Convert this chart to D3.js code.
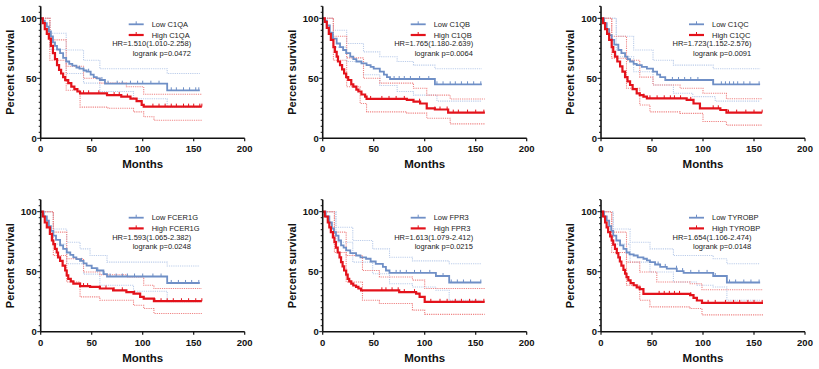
<!DOCTYPE html>
<html lang="en">

<head>
    <title>Survival</title>
    <meta charset="utf-8">
    <script src="https://d3js.org/d3.v7.min.js"></script>
    <style>
        body { margin: 0; background: #fff; }
        svg { display: block; font-family: Arial, "Liberation Sans", sans-serif; }
        .tick-label { font-size: 9.5px; font-weight: bold; fill: #111; }
        .axis-title { font-weight: bold; fill: #111; }
        .legend-text { font-size: 7.5px; fill: #222; }
    </style>
</head>

<body>
    <div id="container1"></div>
    <script>
        // Genes, one panel each
        const genes = ["C1QA", "C1QB", "C1QC", "FCER1G", "FPR3", "TYROBP"];
        const hrLabels = ["HR=1.510(1.010-2.258)", "HR=1.765(1.180-2.639)", "HR=1.723(1.152-2.576)",
            "HR=1.593(1.065-2.382)", "HR=1.613(1.079-2.412)", "HR=1.654(1.106-2.474)"];
        const pLabels = ["logrank p=0.0472", "logrank p=0.0064", "logrank p=0.0091",
            "logrank p=0.0248", "logrank p=0.0215", "logrank p=0.0148"];
        const xTicks = [0, 50, 100, 150, 200];
        const yTicks = [0, 50, 100];

        // Kaplan-Meier steps [month, percent] : main curve, upper CI, lower CI
        const c1qaLow = [[0, 100], [2, 98], [4, 96], [6, 93], [8, 89], [10, 85], [12, 80], [14, 77], [16, 74], [19, 71], [22, 67], [25, 64], [28, 62], [31, 60.5], [35, 59], [38, 58], [42, 56.5], [45, 55.5], [49, 53], [52, 51], [55, 50], [58, 48.6], [63, 45.5], [124, 40], [156, 40]];
        const c1qaLowUp = [[0, 100], [9, 87.5], [25, 73.6], [42, 65], [58, 58], [124, 54], [156, 54]];
        const c1qaLowLo = [[0, 100], [9, 74], [25, 54], [42, 46], [58, 39], [91, 33], [124, 26], [156, 26]];
        const c1qaHigh = [[0, 100], [2, 96], [4, 91], [6, 87], [8, 83], [10, 77], [12, 71], [14, 66], [16, 61], [18, 57], [20, 54], [22, 51], [24, 48.5], [27, 46], [30, 43], [33, 41], [36, 39], [38.6, 37.5], [65, 36], [79, 34.7], [88, 33], [94, 31], [99, 27.8], [101, 26.4], [158, 26.4]];
        const c1qaHighUp = [[0, 100], [9, 82], [25, 60], [42, 50], [58, 46], [84, 43], [101, 36.7], [158, 36.7]];
        const c1qaHighLo = [[0, 100], [9, 65], [25, 40], [38.6, 26], [66, 25], [91, 22], [101, 18], [111, 15], [158, 15]];

        const c1qbLow = [[0, 100], [2, 98], [4, 94], [7, 88], [10, 83], [13.7, 79], [17, 76], [20, 73.6], [23, 71], [27, 68], [30, 66], [33, 64], [38, 62.5], [43, 61], [47, 59.5], [50, 58], [56, 55.5], [60, 53], [63, 51], [66, 49.4], [110, 45], [156, 45]];
        const c1qbLowUp = [[0, 100], [10.5, 90], [23.5, 79], [40, 72], [56, 68], [73, 64], [89, 61], [110, 58], [156, 58]];
        const c1qbLowLo = [[0, 100], [10.5, 76], [23.5, 64], [40, 53], [56, 44], [73, 39], [89, 36], [112, 31], [156, 31]];
        const c1qbHigh = [[0, 100], [2, 97], [4, 92], [6, 87], [8, 82], [10.5, 76], [12, 72], [13.7, 68], [15, 64], [17, 61], [19, 57.5], [21, 54], [23, 51], [25, 48.6], [28, 45], [30, 43], [33, 40.5], [35, 39], [38, 36.5], [41.6, 34.7], [43, 32.8], [82.5, 32], [89, 30.5], [95.5, 29], [102, 25], [110, 24], [123, 21.4], [159, 21.4]];
        const c1qbHighUp = [[0, 100], [10.5, 85], [23.5, 67], [40, 50], [56, 46], [89, 41.7], [102, 36], [125, 32.8], [159, 32.8]];
        const c1qbHighLo = [[0, 100], [10.5, 65], [23.5, 43], [36.7, 29], [43, 22], [82.5, 21], [102, 16.7], [125, 12], [159, 12]];

        const c1qcLow = [[0, 100], [3, 96], [5.6, 91], [8, 86], [10.5, 82], [13, 78], [17, 73.6], [20, 71], [23.6, 68], [26, 66], [28.5, 64], [32, 62], [35, 61], [40, 59.5], [45, 58], [51, 55.5], [55, 53], [58, 51], [63, 48.6], [110, 45], [156, 45]];
        const c1qcLowUp = [[0, 100], [15, 85], [32, 73.6], [51, 65], [71, 61], [110, 58], [156, 58]];
        const c1qcLowLo = [[0, 100], [15, 68], [32, 55.5], [51, 44.4], [71, 37.5], [90, 34.7], [112, 31], [156, 31]];
        const c1qcHigh = [[0, 100], [2, 96], [4, 91], [6, 87], [8, 82], [10.5, 76], [12, 72], [13.7, 68], [16, 64], [18.7, 60], [21, 55.5], [23.6, 51], [26, 47.5], [28.5, 44.4], [31, 41], [35, 37.5], [38, 36], [41.6, 34.7], [45, 33.3], [84, 32], [90.7, 29], [97, 25], [117, 23.6], [123, 21.4], [158, 21.4]];
        const c1qcHighUp = [[0, 100], [10.5, 85], [25, 65], [38, 51], [51, 44.4], [77.5, 41.7], [100, 37.5], [123, 33], [158, 33]];
        const c1qcHighLo = [[0, 100], [10.5, 66.7], [25, 41.7], [38, 27.8], [48, 22], [77.5, 20.8], [100, 14], [123, 11], [158, 11]];

        const fcer1gLow = [[0, 100], [3, 96], [6, 92.5], [8, 88], [10, 84], [12.4, 80], [15, 76.5], [19, 72], [22, 69], [25.5, 66], [29, 64], [32, 62], [35, 60.5], [38.6, 59], [42, 57], [45, 55], [50, 53], [55, 51], [61.5, 48], [65, 46], [124, 40.6], [156, 40.6]];
        const fcer1gLowUp = [[0, 100], [12.4, 85.6], [25.5, 74.6], [38.6, 69], [48.4, 63.5], [65, 58], [124, 54.7], [156, 54.7]];
        const fcer1gLowLo = [[0, 100], [12.4, 73], [25.5, 56.6], [42, 48], [58, 38.7], [91, 33.7], [124, 25], [156, 25]];
        const fcer1gHigh = [[0, 100], [2, 96], [4, 91], [6, 87], [9, 81.5], [11, 76], [12.4, 73], [14, 69], [15.7, 66], [17, 62], [19, 59], [21.5, 55], [24, 51], [25.5, 47], [27, 44], [29.5, 42], [32, 40], [38.6, 38], [48.4, 37.3], [58, 36], [71, 34.5], [84, 33], [91, 31.8], [97.5, 29], [101, 27.6], [111, 25.4], [158, 25.4]];
        const fcer1gHighUp = [[0, 100], [12.4, 83], [25.5, 60.8], [42, 49.7], [58, 47.5], [84, 45.6], [101, 38.7], [111, 36], [158, 36]];
        const fcer1gHighLo = [[0, 100], [12.4, 63.5], [25.5, 41.4], [38.6, 29], [58, 26.2], [91, 22], [101, 19.3], [111, 15.2], [158, 15.2]];

        const fpr3Low = [[0, 100], [3, 96], [6.5, 91], [9, 86], [11, 83], [13, 80], [15.5, 76], [18, 72], [20.5, 70], [23, 67.7], [27, 65.5], [32.7, 63.5], [37, 62], [42.5, 60.8], [47, 58.5], [52, 56.6], [59, 54], [62, 51], [65.5, 49], [111, 46.4], [124, 41], [155.5, 41]];
        const fpr3LowUp = [[0, 100], [13, 87], [29.5, 76], [49, 69], [65.5, 62], [88, 59], [124, 56.6], [155.5, 56.6]];
        const fpr3LowLo = [[0, 100], [13, 74.6], [29.5, 58], [49, 48.3], [65.5, 40], [88, 37.3], [111, 34.5], [124, 26.2], [155.5, 26.2]];
        const fpr3High = [[0, 100], [2, 96], [5, 91], [6.5, 87], [8, 83], [10, 78.5], [11.5, 74.6], [13, 70], [14.7, 66], [16.5, 62], [18, 58], [19.5, 54.5], [21, 51], [23, 47.5], [24.5, 44], [26, 42], [28, 40], [30, 38.5], [32.7, 37.3], [35, 36], [37.6, 34.5], [75, 33], [91.6, 31.8], [95, 29], [100, 24.9], [158.8, 24.9]];
        const fpr3HighUp = [[0, 100], [11.5, 83], [23, 63.5], [39, 51], [55.6, 45.6], [88, 43], [100, 36], [158.8, 36]];
        const fpr3HighLo = [[0, 100], [11.5, 66], [23, 41.4], [39, 26.2], [55.6, 23.5], [88, 18], [100, 14.4], [158.8, 14.4]];

        const tyrobpLow = [[0, 100], [3, 96], [5.6, 92.5], [8, 88], [10, 84], [12, 80], [15, 76], [18.7, 72], [22, 69], [25, 66], [28, 64.5], [32, 63.5], [36, 62], [41.6, 60.8], [45, 59.5], [48, 58], [53, 56], [58, 54], [64.5, 52.5], [74.3, 50.5], [81, 49], [110, 46.4], [123.4, 41], [156, 41]];
        const tyrobpLowUp = [[0, 100], [12, 85.6], [28.5, 74.6], [48, 69], [71, 63.5], [110, 60.8], [123.4, 56.6], [156, 56.6]];
        const tyrobpLowLo = [[0, 100], [12, 73], [28.5, 58], [48, 49.7], [71, 41.4], [94, 38.7], [110, 37.3], [123.4, 26.2], [156, 26.2]];
        const tyrobpHigh = [[0, 100], [2, 96], [4, 91], [5.5, 87], [7, 83], [9, 79.5], [10.5, 76], [12, 72.5], [13.7, 69], [15.5, 65.5], [17, 62], [18.5, 58.5], [20, 55], [22, 51.5], [23.6, 48.3], [25, 45.5], [26.8, 42.8], [29, 40.5], [32, 38.7], [35, 37], [38, 35.4], [41.6, 31.5], [87.4, 30.4], [90.7, 28.2], [94, 26], [99, 24], [158.8, 24]];
        const tyrobpHighUp = [[0, 100], [10.5, 83], [25, 58], [38, 49.7], [54.7, 41.4], [87.4, 40], [99, 35], [158.8, 35]];
        const tyrobpHighLo = [[0, 100], [10.5, 66], [25, 38.7], [38, 26.2], [48, 20.7], [87.4, 19.3], [99, 14], [158.8, 14]];

        // Censored months (tick marks on the curves)
        const c1qaLowCens = [38, 42, 47, 60, 66, 75, 80, 88, 95, 100, 108, 116, 128, 133, 140, 146, 152, 155];
        const c1qaHighCens = [42, 47, 57, 72, 77, 85, 110, 116, 122, 128, 133, 140, 145, 150, 156, 158];
        const c1qbLowCens = [70, 75, 80, 86, 95, 104, 112, 118, 125, 130, 136, 142, 148, 155];
        const c1qbHighCens = [47, 58, 65, 72, 80, 95, 110, 115, 122, 128, 133, 142, 150, 158];
        const c1qcLowCens = [70, 76, 82, 88, 95, 110, 118, 122, 126, 130, 134, 140, 146, 155];
        const c1qcHighCens = [42, 48, 55, 62, 68, 72, 78, 88, 110, 115, 125, 133, 142, 150, 158];
        const fcer1gLowCens = [40, 56, 62, 68, 74, 80, 85, 92, 100, 110, 118, 128, 135, 142, 148, 155];
        const fcer1gHighCens = [42, 46, 58, 64, 72, 80, 92, 112, 118, 124, 130, 138, 145, 152, 158];
        const fpr3LowCens = [72, 76, 82, 90, 96, 105, 118, 126, 132, 138, 145, 155];
        const fpr3HighCens = [58, 62, 68, 74, 80, 90, 106, 115, 122, 130, 136, 144, 150, 158];
        const tyrobpLowCens = [56, 63, 74, 80, 88, 96, 104, 112, 126, 132, 140, 147, 155];
        const tyrobpHighCens = [57, 62, 67, 72, 77, 88, 105, 112, 122, 130, 136, 144, 150, 158];

        const panels = [
            { low: c1qaLow, lowUp: c1qaLowUp, lowLo: c1qaLowLo, high: c1qaHigh, highUp: c1qaHighUp, highLo: c1qaHighLo, lowCens: c1qaLowCens, highCens: c1qaHighCens },
            { low: c1qbLow, lowUp: c1qbLowUp, lowLo: c1qbLowLo, high: c1qbHigh, highUp: c1qbHighUp, highLo: c1qbHighLo, lowCens: c1qbLowCens, highCens: c1qbHighCens },
            { low: c1qcLow, lowUp: c1qcLowUp, lowLo: c1qcLowLo, high: c1qcHigh, highUp: c1qcHighUp, highLo: c1qcHighLo, lowCens: c1qcLowCens, highCens: c1qcHighCens },
            { low: fcer1gLow, lowUp: fcer1gLowUp, lowLo: fcer1gLowLo, high: fcer1gHigh, highUp: fcer1gHighUp, highLo: fcer1gHighLo, lowCens: fcer1gLowCens, highCens: fcer1gHighCens },
            { low: fpr3Low, lowUp: fpr3LowUp, lowLo: fpr3LowLo, high: fpr3High, highUp: fpr3HighUp, highLo: fpr3HighLo, lowCens: fpr3LowCens, highCens: fpr3HighCens },
            { low: tyrobpLow, lowUp: tyrobpLowUp, lowLo: tyrobpLowLo, high: tyrobpHigh, highUp: tyrobpHighUp, highLo: tyrobpHighLo, lowCens: tyrobpLowCens, highCens: tyrobpHighCens }
        ];

        // Layout
        const W = 819, H = 369;
        const plotW = 204, plotH = 132;          // 0-200 months, 0-110 %
        const colX = [40.7, 322.7, 601];
        const rowY = [6.3, 199.7];

        const colors = {
            low: "#6f8fc6", lowCI: "#bccdea",
            high: "#e3121b", highCI: "#ef8585"
        };

        const svg = d3.select("#container1")
            .append("svg")
            .attr("width", W)
            .attr("height", H);

        const xScale = d3.scaleLinear().domain([0, 200]).range([0, plotW]);
        const yScale = d3.scaleLinear().domain([0, 110]).range([plotH, 0]);

        const stepLine = d3.line()
            .x(d => xScale(d[0]))
            .y(d => yScale(d[1]))
            .curve(d3.curveStepAfter);

        // value of a step curve at a given month
        function valueAt(curve, t) {
            let v = curve[0][1];
            for (const p of curve) { if (p[0] <= t) v = p[1]; }
            return v;
        }

        panels.forEach((p, i) => {
            const g = svg.append("g")
                .attr("transform", `translate(${colX[i % 3]},${rowY[Math.floor(i / 3)]})`);

            // Confidence bands (dotted)
            [[p.lowUp, colors.lowCI], [p.lowLo, colors.lowCI], [p.highUp, colors.highCI], [p.highLo, colors.highCI]]
                .forEach(([c, col]) => {
                    g.append("path")
                        .attr("d", stepLine(c))
                        .attr("fill", "none")
                        .attr("stroke", col)
                        .attr("stroke-width", 1.1)
                        .attr("stroke-dasharray", "1.2,1");
                });

            // Main curves with censor ticks
            [[p.low, p.lowCens, colors.low, 1.8], [p.high, p.highCens, colors.high, 2.2]]
                .forEach(([c, cens, col, sw]) => {
                    g.append("path")
                        .attr("d", stepLine(c))
                        .attr("fill", "none")
                        .attr("stroke", col)
                        .attr("stroke-width", sw);
                    g.selectAll(null)
                        .data(cens)
                        .join("line")
                        .attr("x1", d => xScale(d))
                        .attr("x2", d => xScale(d))
                        .attr("y1", d => yScale(valueAt(c, d)))
                        .attr("y2", d => yScale(valueAt(c, d)) - 3)
                        .attr("stroke", col)
                        .attr("stroke-width", 1);
                });

            // Y axis with minor ticks
            g.append("line")
                .attr("x1", 0).attr("x2", 0)
                .attr("y1", yScale(0)).attr("y2", yScale(110))
                .attr("stroke", "#111").attr("stroke-width", 1.6);
            g.selectAll(null)
                .data(d3.range(0, 111, 5))
                .join("line")
                .attr("x1", 0)
                .attr("x2", d => yTicks.includes(d) ? -3.5 : -2)
                .attr("y1", d => yScale(d))
                .attr("y2", d => yScale(d))
                .attr("stroke", "#111")
                .attr("stroke-width", 1);
            g.selectAll(null)
                .data(yTicks)
                .join("text")
                .attr("class", "tick-label")
                .attr("x", -4)
                .attr("y", d => yScale(d))
                .attr("dy", "0.35em")
                .attr("text-anchor", "end")
                .text(d => d);

            // X axis
            g.append("line")
                .attr("x1", 0).attr("x2", xScale(200))
                .attr("y1", yScale(0)).attr("y2", yScale(0))
                .attr("stroke", "#111").attr("stroke-width", 1.6);
            g.selectAll(null)
                .data(xTicks)
                .join("line")
                .attr("x1", d => xScale(d))
                .attr("x2", d => xScale(d))
                .attr("y1", yScale(0))
                .attr("y2", yScale(0) + 3)
                .attr("stroke", "#111")
                .attr("stroke-width", 1.2);
            g.selectAll(null)
                .data(xTicks)
                .join("text")
                .attr("class", "tick-label")
                .attr("x", d => xScale(d))
                .attr("y", yScale(0) + 14)
                .attr("text-anchor", "middle")
                .text(d => d);

            // Axis titles
            g.append("text")
                .attr("class", "axis-title")
                .attr("x", xScale(100))
                .attr("y", yScale(0) + 30)
                .attr("text-anchor", "middle")
                .style("font-size", "11.5px")
                .text("Months");
            g.append("text")
                .attr("class", "axis-title")
                .attr("transform", `translate(-27,${yScale(55)}) rotate(-90)`)
                .attr("text-anchor", "middle")
                .style("font-size", "11px")
                .text("Percent survival");

            // Legend
            const legend = g.append("g")
                .attr("transform", `translate(0,${yScale(100)})`);
            [["Low " + genes[i], colors.low, 1.8, 6], ["High " + genes[i], colors.high, 2.2, 16.7]]
                .forEach(([label, col, sw, ly]) => {
                    legend.append("line")
                        .attr("x1", 88).attr("x2", 103)
                        .attr("y1", ly).attr("y2", ly)
                        .attr("stroke", col).attr("stroke-width", sw);
                    legend.append("line")
                        .attr("x1", 95.5).attr("x2", 95.5)
                        .attr("y1", ly).attr("y2", ly - 3)
                        .attr("stroke", col).attr("stroke-width", 1);
                    legend.append("text")
                        .attr("class", "legend-text")
                        .attr("x", 111)
                        .attr("y", ly)
                        .attr("dy", "0.35em")
                        .text(label);
                });
            legend.append("text")
                .attr("class", "legend-text")
                .attr("x", 71.5)
                .attr("y", 28)
                .text(hrLabels[i]);
            legend.append("text")
                .attr("class", "legend-text")
                .attr("x", 92)
                .attr("y", 37.5)
                .text(pLabels[i]);
        });
    </script>
</body>

</html>
